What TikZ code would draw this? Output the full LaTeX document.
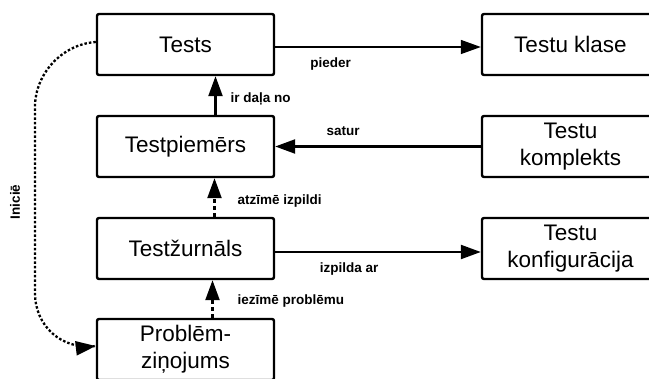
\documentclass[tikz,border=0pt]{standalone}
\usepackage{fontspec}
\setmainfont{Liberation Sans}
\usetikzlibrary{arrows.meta}
\begin{document}
\begin{tikzpicture}[x=1pt,y=-1pt,
  entity/.style={draw, line width=2.4pt, rounded corners=2pt,
    minimum width=177pt, minimum height=61pt, inner sep=0pt,
    align=center, font=\fontsize{22.5}{27}\selectfont},
  rel/.style={line width=2.3pt, -{Triangle[length=20pt,width=14pt]}},
  weak/.style={rel, dash pattern=on 4pt off 3pt},
  lbl/.style={font=\fontsize{13.5}{15}\selectfont\bfseries, inner sep=0pt}
]
\useasboundingbox (0,0) rectangle (649,379);
\clip (0,0) rectangle (649,379);

% entities
\node[entity] (tests)  at (185.5,44.5)  {Tests};
\node[entity] (klase)  at (570.5,44.5)  {Testu klase};
\node[entity] (piem)   at (185.5,146.5) {Testpiemērs};
\node[entity] (kompl)  at (570.5,146.5) {Testu\\komplekts};
\node[entity] (zurn)   at (185.5,248.5) {Testžurnāls};
\node[entity] (konf)   at (570.5,248.5) {Testu\\konfigurācija};
\node[entity] (probl)  at (185.5,349.5) {Problēm-\\ziņojums};

% horizontal relations
\draw[rel, line width=1.5pt] ([yshift=-2.5pt]tests.east) -- ([yshift=-2.5pt]klase.west)
  node[lbl, pos=0.27, below=10pt] {pieder};
\draw[rel] (kompl.west) -- (piem.east)
  node[lbl, pos=0.67, above=10pt] {satur};
\draw[rel] ([yshift=-3.5pt]zurn.east) -- ([yshift=-3.5pt]konf.west)
  node[lbl, pos=0.36, below=10pt] {izpilda ar};

% vertical relations
\draw[rel] ([xshift=30pt]piem.north) -- ([xshift=30pt]tests.south)
  node[lbl, pos=0.4, right=14pt] {ir daļa no};
\draw[weak] ([xshift=29pt]zurn.north) -- ([xshift=29pt]piem.south)
  node[lbl, pos=0.4, right=22pt] {atzīmē izpildi};
\draw[weak] ([xshift=27pt]probl.north) -- ([xshift=27pt]zurn.south)
  node[lbl, pos=0.45, right=24pt] {iezīmē problēmu};

% initiation link
\coordinate (bendtop) at (35,47);
\coordinate (bendbot) at (35,353);
\draw[line width=2.3pt, dash pattern=on 2.5pt off 2pt,
      -{Triangle[length=20pt,width=14pt]}, rounded corners=60pt]
  ([yshift=2.5pt]tests.west) -- (bendtop) -- (bendbot) -- ([yshift=3.5pt]probl.west);
\node[lbl, rotate=90] (inicie) at (15,202) {Iniciē};
\end{tikzpicture}
\end{document}
